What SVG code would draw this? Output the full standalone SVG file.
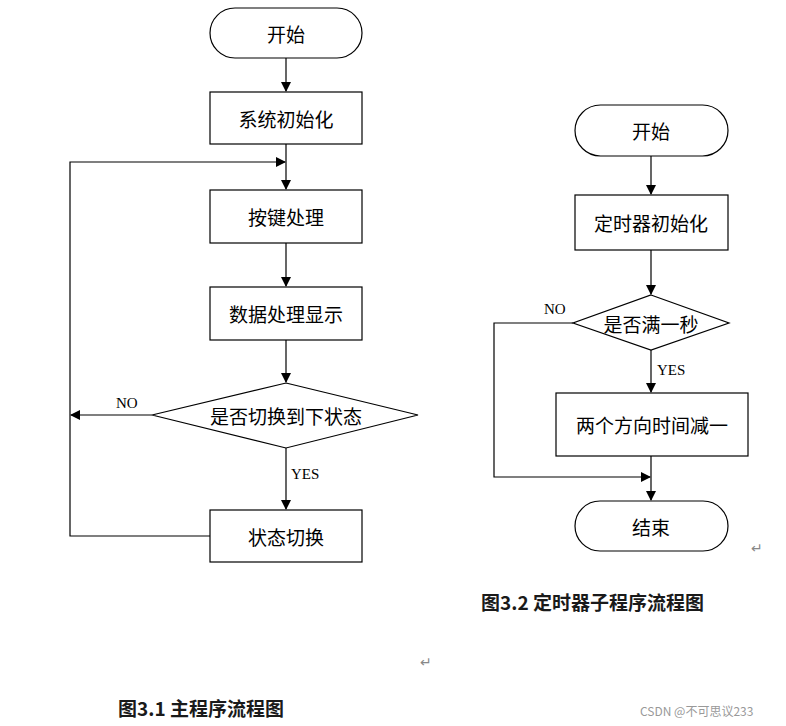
<svg xmlns="http://www.w3.org/2000/svg" width="786" height="726" viewBox="0 0 786 726">
<style>
.b{fill:#fff;stroke:#000;stroke-width:1.2}
.t{font-family:"Noto Sans CJK SC",sans-serif;font-size:19px;text-anchor:middle;dominant-baseline:central}
.l{font-family:"Liberation Serif",serif;font-size:15px}
.c{fill:none;stroke:#000;stroke-width:1.2}
.cap{font-family:"Noto Sans CJK SC",sans-serif;font-size:19px;font-weight:bold;fill:#1a1a1a}
</style>
<defs><marker id="a" markerWidth="10" markerHeight="10" refX="9" refY="5" orient="auto" markerUnits="userSpaceOnUse"><path d="M0,0 L10,5 L0,10 z"/></marker></defs>
<rect width="786" height="726" fill="#fff"/>
<g id="connectors">
<path class="c" d="M286,58 V91" marker-end="url(#a)"/>
<path class="c" d="M286,144 V189" marker-end="url(#a)"/>
<path class="c" d="M286,243 V286" marker-end="url(#a)"/>
<path class="c" d="M286,340 V382" marker-end="url(#a)"/>
<path class="c" d="M286,448 V509" marker-end="url(#a)"/>
<path class="c" d="M210,536 H70 V162 H285" marker-end="url(#a)"/>
<path class="c" d="M152,415 H71" marker-end="url(#a)"/>
<path class="c" d="M651,156 V194" marker-end="url(#a)"/>
<path class="c" d="M651,250 V294" marker-end="url(#a)"/>
<path class="c" d="M651,350 V392" marker-end="url(#a)"/>
<path class="c" d="M651,456 V500" marker-end="url(#a)"/>
<path class="c" d="M573,323 H494 V477 H650" marker-end="url(#a)"/>
</g>
<g id="start1"><rect class="b" x="210" y="8" width="152" height="50" rx="25"/><text class="t" x="286" y="33">开始</text></g>
<g id="init1"><rect class="b" x="210" y="92" width="152" height="52"/><text class="t" x="286" y="118">系统初始化</text></g>
<g id="key"><rect class="b" x="210" y="190" width="152" height="53"/><text class="t" x="286" y="216">按键处理</text></g>
<g id="disp"><rect class="b" x="210" y="287" width="152" height="53"/><text class="t" x="286" y="313">数据处理显示</text></g>
<g id="dec1"><polygon class="b" points="286,383 418,415 286,448 152,415"/><text class="t" x="286" y="415">是否切换到下状态</text></g>
<g id="sw"><rect class="b" x="210" y="510" width="152" height="52"/><text class="t" x="286" y="536">状态切换</text></g>
<text class="l" x="116" y="408">NO</text>
<text class="l" x="291" y="479">YES</text>
<g id="start2"><rect class="b" x="575" y="105" width="153" height="51" rx="25.5"/><text class="t" x="651" y="130">开始</text></g>
<g id="init2"><rect class="b" x="575" y="195" width="153" height="55"/><text class="t" x="651" y="222">定时器初始化</text></g>
<g id="dec2"><polygon class="b" points="651,295 729,323 651,350 573,323"/><text class="t" x="651" y="323">是否满一秒</text></g>
<g id="dec"><rect class="b" x="556" y="393" width="192" height="63"/><text class="t" x="652" y="424">两个方向时间减一</text></g>
<g id="end2"><rect class="b" x="575" y="501" width="153" height="50" rx="25"/><text class="t" x="651" y="526">结束</text></g>
<text class="l" x="544" y="314">NO</text>
<text class="l" x="657" y="375">YES</text>
<text class="cap" x="481" y="610">图3.2 定时器子程序流程图</text>
<text class="cap" x="118" y="716">图3.1 主程序流程图</text>
<text x="420" y="667" font-family="DejaVu Sans,sans-serif" font-size="14" fill="#888">↵</text>
<text x="751" y="553" font-family="DejaVu Sans,sans-serif" font-size="14" fill="#888">↵</text>
<text x="640" y="716" font-family="Noto Sans CJK SC,sans-serif" font-size="12" fill="#999">CSDN @不可思议233</text>
</svg>
